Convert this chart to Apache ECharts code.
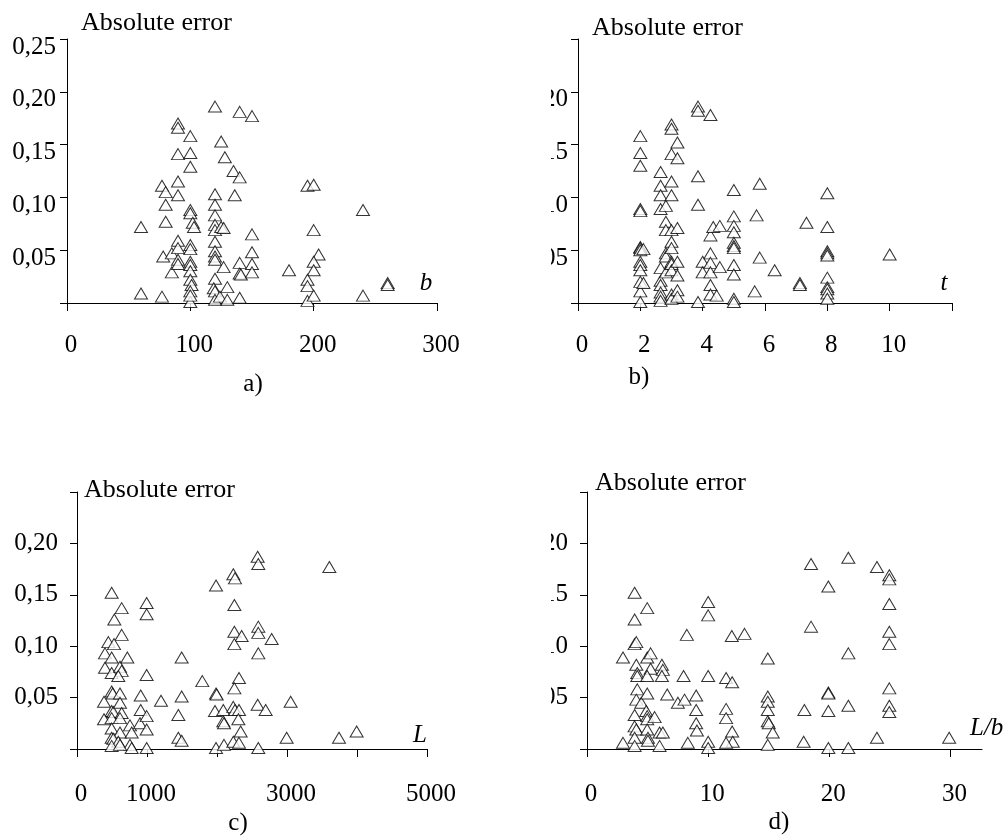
<!DOCTYPE html>
<html>
<head>
<meta charset="utf-8">
<script src="https://cdn.jsdelivr.net/npm/echarts@6.0.0/dist/echarts.min.js"></script>
<style>
  html, body { margin: 0; padding: 0; background: #fff; }
  #chart { width: 1008px; height: 836px; }
</style>
</head>
<body>
<div id="chart"></div>
<script>
// a) error against width b
var widthB = [60, 60, 77, 77, 80, 80, 80, 78, 85, 85, 90, 90, 90, 90, 90, 90, 90, 90, 90,
  100, 100, 100, 100, 100, 102, 103, 100, 100, 100, 100, 100, 100, 101, 100, 100, 100,
  120, 125, 128, 135, 140, 140, 150, 136, 120, 120, 120, 120, 120, 125, 127, 120, 120, 120, 120,
  127, 120, 119, 120, 120, 124, 130, 130, 140, 140, 140, 141, 150, 150, 150, 150,
  180, 195, 200, 200, 204, 200, 200, 195, 195, 195, 200, 240, 240, 260, 260];
var errA = [0.072, 0.009, 0.006, 0.111, 0.105, 0.093, 0.077, 0.044, 0.047, 0.029, 0.170, 0.166, 0.141, 0.115, 0.102, 0.059, 0.052, 0.041, 0.037,
  0.158, 0.142, 0.129, 0.088, 0.085, 0.076, 0.072, 0.055, 0.051, 0.039, 0.036, 0.030, 0.022, 0.017, 0.011, 0.001, 0.007,
  0.186, 0.153, 0.138, 0.125, 0.119, 0.181, 0.177, 0.102, 0.103, 0.093, 0.083, 0.074, 0.069, 0.072, 0.071, 0.058, 0.049, 0.044, 0.041,
  0.034, 0.023, 0.014, 0.011, 0.003, 0.006, 0.015, 0.003, 0.005, 0.038, 0.028, 0.027, 0.065, 0.048, 0.037, 0.029,
  0.031, 0.111, 0.112, 0.069, 0.046, 0.039, 0.031, 0.022, 0.016, 0.002, 0.007, 0.088, 0.007, 0.019, 0.017];

// b) error against thickness t
var thickT = [2, 2, 2, 2, 2, 2, 2, 2, 2, 2, 2, 2, 2, 2, 2.1, 2.1,
  2.65, 2.65, 2.65, 2.65, 2.65, 2.65, 2.65, 2.65, 2.65, 2.65,
  2.82, 2.82, 2.82, 2.82, 2.82, 2.82,
  3, 3, 3, 3, 3, 3, 3, 3, 3, 3, 3, 3, 3,
  3.19, 3.19, 3.19, 3.19, 3.19, 3.19, 3.19,
  3.85, 3.85, 3.85, 3.85, 3.85, 4.25,
  4, 4, 4.25, 4.25, 4.25, 4.25, 4.25, 4.25, 4.34, 4.55, 4.55, 4.45,
  5, 5, 5, 5, 5, 5, 5, 5, 5, 5, 5,
  5.73, 5.83, 5.83, 5.67, 6.31, 7.12, 7.12, 7.33,
  8, 8, 8, 8, 8, 8, 8, 8, 8, 8, 10];
var errB = [0.158, 0.142, 0.130, 0.089, 0.087, 0.053, 0.052, 0.050, 0.039, 0.036, 0.031, 0.020, 0.011, 0.001, 0.051, 0.019,
  0.124, 0.111, 0.102, 0.089, 0.033, 0.021, 0.017, 0.010, 0.006, 0.002,
  0.092, 0.077, 0.069, 0.047, 0.044, 0.029,
  0.169, 0.165, 0.141, 0.115, 0.102, 0.069, 0.058, 0.052, 0.039, 0.037, 0.031, 0.008, 0.004,
  0.152, 0.137, 0.071, 0.039, 0.026, 0.012, 0.006,
  0.186, 0.182, 0.120, 0.093, 0.001, 0.178,
  0.039, 0.029, 0.064, 0.047, 0.038, 0.029, 0.017, 0.008, 0.072, 0.073, 0.034, 0.007,
  0.107, 0.082, 0.073, 0.067, 0.057, 0.054, 0.052, 0.036, 0.027, 0.004, 0.001,
  0.083, 0.113, 0.043, 0.011, 0.031, 0.019, 0.017, 0.076,
  0.104, 0.072, 0.049, 0.047, 0.045, 0.024, 0.015, 0.013, 0.009, 0.004, 0.046];

// c) error against length L
var lengthL = [495, 533, 638, 638, 400, 448, 529, 495, 400, 495, 614, 638, 590, 719, 495, 510, 614, 386,
  495, 519, 614, 638, 386, 495, 614, 495, 614, 495, 519, 590, 757, 781, 757, 781, 495, 614,
  995, 995, 995, 910, 910, 900, 995, 995, 995, 1200, 1495, 1495, 1448, 1448, 1495,
  1790, 1986, 1986, 1995, 1971, 2090, 2090, 2100, 1986, 2100,
  2233, 2257, 2248, 2248, 2352, 2248, 2314, 2248, 2233, 2257, 2314, 2305, 2338, 2233, 2314,
  2581, 2590, 2590, 2590, 2590, 2781, 2581, 2695, 2590, 2995, 3052, 3605, 3743, 3995];
var errC = [0.152, 0.126, 0.137, 0.111, 0.093, 0.104, 0.102, 0.089, 0.079, 0.074, 0.080, 0.076, 0.071, 0.089, 0.056, 0.054, 0.054, 0.046,
  0.037, 0.036, 0.045, 0.035, 0.029, 0.030, 0.030, 0.020, 0.016, 0.011, 0.010, 0.007, 0.023, 0.016, 0.004, 0.001, 0.003, 0.004,
  0.142, 0.131, 0.072, 0.052, 0.038, 0.025, 0.032, 0.019, 0.001, 0.047, 0.089, 0.051, 0.033, 0.011, 0.008,
  0.066, 0.159, 0.054, 0.053, 0.037, 0.038, 0.027, 0.025, 0.001, 0.004,
  0.170, 0.166, 0.140, 0.114, 0.110, 0.102, 0.069, 0.059, 0.041, 0.038, 0.038, 0.029, 0.017, 0.007, 0.006,
  0.187, 0.180, 0.119, 0.113, 0.093, 0.107, 0.043, 0.038, 0.001, 0.011, 0.046, 0.177, 0.011, 0.017];

// d) error against slenderness L/b
var ratioLb = [3.93, 3.93, 4.97, 3.93, 4.07, 2.97, 4.07, 4.15, 4.15, 4.97, 5.25, 5.25, 4.97, 6.18, 6.26, 6.18,
  4.15, 4.07, 4.48, 4.97, 6.62, 7.5, 8.05, 9.01, 9.01, 7.97, 10, 10, 10, 8.24, 11.95, 13,
  11.48, 11.98, 11.48, 11.48, 11.98, 12.03, 11.48, 10, 10, 9.01, 9.07, 8.32,
  3.93, 3.93, 4.07, 3.93, 3.93, 4.89, 4.97, 4.97, 5.58, 4.97, 5.03, 5.03, 5.99, 6.26, 5.99, 2.97,
  14.92, 14.92, 14.92, 14.92, 14.92, 15, 15.33, 14.92, 18.49, 18.49, 17.94, 17.88,
  19.92, 19.92, 19.92, 19.92, 19.92, 21.57, 21.57, 21.57, 21.57,
  23.93, 24.95, 24.95, 24.95, 24.95, 24.95, 24.95, 24.95, 24.95, 23.93, 29.89];
var errD = [0.152, 0.126, 0.137, 0.102, 0.104, 0.089, 0.082, 0.074, 0.071, 0.089, 0.093, 0.078, 0.071, 0.082, 0.077, 0.071,
  0.058, 0.048, 0.045, 0.054, 0.053, 0.045, 0.048, 0.052, 0.038, 0.071, 0.143, 0.130, 0.071, 0.111, 0.110, 0.112,
  0.069, 0.065, 0.039, 0.030, 0.017, 0.007, 0.006, 0.007, 0.001, 0.025, 0.018, 0.006,
  0.033, 0.022, 0.019, 0.011, 0.003, 0.037, 0.032, 0.029, 0.031, 0.019, 0.011, 0.008, 0.016, 0.016, 0.003, 0.006,
  0.088, 0.051, 0.046, 0.038, 0.027, 0.025, 0.016, 0.004, 0.180, 0.119, 0.038, 0.007,
  0.158, 0.055, 0.054, 0.037, 0.001, 0.186, 0.093, 0.042, 0.001,
  0.177, 0.169, 0.165, 0.141, 0.114, 0.102, 0.059, 0.042, 0.036, 0.011, 0.011];

// axis ticks and labels
var yTicks = [0, 0.05, 0.10, 0.15, 0.20, 0.25];
var yLabelsA = [0.05, 0.10, 0.15, 0.20, 0.25];
var yLabelsRest = [0.05, 0.10, 0.15, 0.20];
var xTicksA = [0, 100, 200, 300];
var xTicksB = [0, 2, 4, 6, 8, 10, 12];
var xLabelsB = [0, 2, 4, 6, 8, 10];
var xTicksC = [0, 1000, 2000, 3000, 4000, 5000];
var xLabelsC = [0, 1000, 3000, 5000];
var xTicksD = [0, 10, 20, 30];

var FONT = '"Liberation Serif", "Times New Roman", serif';

function zip(xs, ys) {
  return xs.map(function (x, i) { return [x, ys[i]]; });
}

var lineStyle = { color: '#000', width: 1 };

function xAx(gi, max, ticks, labels, margin) {
  return {
    type: 'value', gridIndex: gi, min: 0, max: max,
    axisLine: { lineStyle: lineStyle },
    axisTick: { length: 8, lineStyle: lineStyle, customValues: ticks },
    axisLabel: {
      customValues: labels, margin: margin, padding: [0, 0, 0, 8],
      fontFamily: FONT, fontSize: 25, color: '#000',
      formatter: function (v) { return String(v); }
    },
    splitLine: { show: false }
  };
}

function yAx(gi, labels, margin, top) {
  var lab = {
    customValues: labels, margin: margin,
    fontFamily: FONT, fontSize: 25, color: '#000',
    formatter: function (v) { return v.toFixed(2).replace('.', ','); }
  };
  if (top) {
    // upper panels: label hangs below its tick
    lab.verticalAlign = 'top';
    lab.lineHeight = 16;
  }
  return {
    type: 'value', gridIndex: gi, min: 0, max: 0.25,
    axisLine: { lineStyle: lineStyle },
    axisTick: { length: 7, lineStyle: lineStyle, customValues: yTicks },
    axisLabel: lab,
    splitLine: { show: false }
  };
}

function scat(i, data) {
  return {
    type: 'scatter', xAxisIndex: i, yAxisIndex: i, data: data,
    symbol: 'triangle', symbolSize: [13, 11], clip: false,
    itemStyle: { color: '#fff', borderColor: '#000', borderWidth: 1 },
    emphasis: { disabled: true }
  };
}

function txt(s, x, y, size, align, italic) {
  return {
    type: 'text', z: 110, x: x, y: y,
    style: {
      text: s, fill: '#000', align: align, verticalAlign: 'middle',
      font: (italic ? 'italic ' : '') + size + 'px ' + FONT
    }
  };
}

var chart = echarts.init(document.getElementById('chart'));
chart.setOption({
  animation: false,
  backgroundColor: '#fff',
  grid: [
    { left: 67, top: 39, width: 370, height: 264 },
    { left: 578, top: 39, width: 374, height: 264 },
    { left: 77, top: 492, width: 350, height: 257 },
    { left: 587, top: 492, width: 395, height: 257 }
  ],
  xAxis: [
    xAx(0, 300, xTicksA, xTicksA, 30),
    xAx(1, 12, xTicksB, xLabelsB, 30),
    xAx(2, 5000, xTicksC, xLabelsC, 33),
    xAx(3, 32.6, xTicksD, xTicksD, 33)
  ],
  yAxis: [
    yAx(0, yLabelsA, 11, true),
    yAx(1, yLabelsRest, 10, true),
    yAx(2, yLabelsRest, 19, false),
    yAx(3, yLabelsRest, 19, false)
  ],
  series: [
    scat(0, zip(widthB, errA)),
    scat(1, zip(thickT, errB)),
    scat(2, zip(lengthL, errC)),
    scat(3, zip(ratioLb, errD))
  ],
  graphic: [
    // the right-hand panels have their tick labels cut off on the left
    { type: 'rect', z: 100, shape: { x: 462, y: 0, width: 89, height: 836 }, style: { fill: '#fff' } },
    txt('Absolute error', 81, 23, 26, 'left'),
    txt('Absolute error', 592, 28, 26, 'left'),
    txt('Absolute error', 84, 490, 26, 'left'),
    txt('Absolute error', 595, 483, 26, 'left'),
    txt('b', 426, 283, 25, 'center', true),
    txt('t', 944, 283, 25, 'center', true),
    txt('L', 420, 735, 25, 'center', true),
    txt('L/b', 970, 728, 25, 'left', true),
    txt('a)', 253, 384, 25, 'center'),
    txt('b)', 639, 377, 25, 'center'),
    txt('c)', 238, 823, 25, 'center'),
    txt('d)', 779, 822, 25, 'center')
  ]
});
</script>
</body>
</html>
